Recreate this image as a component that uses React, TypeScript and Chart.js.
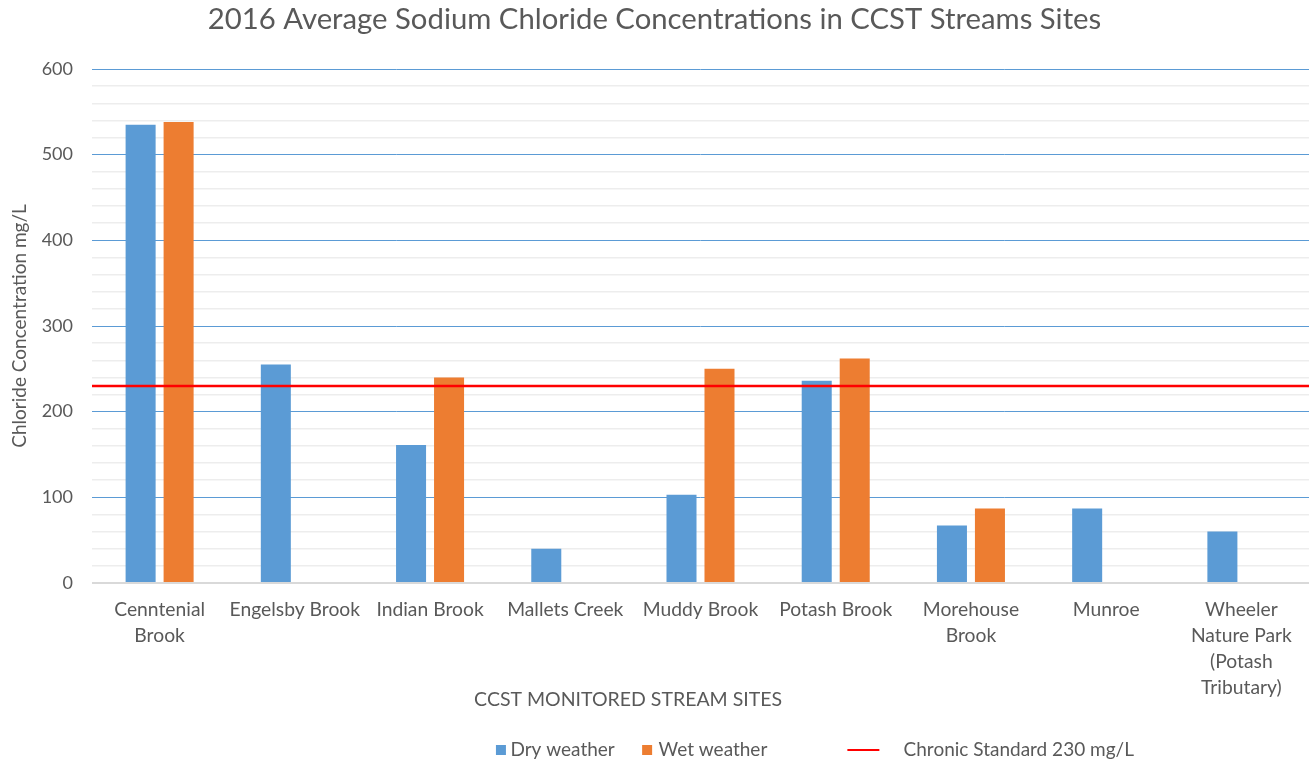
import React, { useEffect, useRef } from "react";
import { Chart, registerables } from "chart.js";

Chart.register(...registerables);

// ---------- data ----------
const siteLabels: string[][] = [
  ["Cenntenial", "Brook"],
  ["Engelsby Brook"],
  ["Indian Brook"],
  ["Mallets Creek"],
  ["Muddy Brook"],
  ["Potash Brook"],
  ["Morehouse", "Brook"],
  ["Munroe"],
  ["Wheeler", "Nature Park", "(Potash", "Tributary)"],
];
const dryWeather: (number | null)[] = [535, 255, 161, 40, 103, 236, 67, 87, 60];
const wetWeather: (number | null)[] = [538, null, 240, null, 250, 262, 87, null, null];
// chronic standard line: spans the whole category axis (outer edges of first and last category)
const chronicStandard: number[] = [230, 230];
const chronicSpan: number[] = [-0.5, siteLabels.length - 0.5];
const seriesNames: string[] = ["Dry weather", "Wet weather", "Chronic Standard 230 mg/L"];
const chartTitle = "2016 Average Sodium Chloride Concentrations in CCST Streams Sites";
const xTitle = "CCST MONITORED STREAM SITES";
const yTitle = "Chloride Concentration mg/L";
const yMin = 0;
const yMax = 600;
const yMinorStep = 20;
const yMajorStep = 100;

// ---------- styles ----------
const W = 1309;
const H = 764;
const FONT = "Lato";
const GREY = "#595959";
const BLUE = "#5B9BD5";
const ORANGE = "#ED7D31";
const RED = "#FF0000";

export default function App() {
  const ref = useRef<HTMLCanvasElement>(null);

  useEffect(() => {
    const canvas = ref.current;
    if (!canvas) return;

    const mctx = document.createElement("canvas").getContext("2d")!;
    const measure = (s: string, size: number) => {
      mctx.font = `normal ${size}px ${FONT}`;
      return mctx.measureText(s).width;
    };

    // font sizes
    const TF = 29.3; // chart title
    const TK = 18; // y ticks
    const XL = 19.3; // x tick labels
    const XT = 19.5; // x title
    const YT = 19; // y title
    const LF = 19; // legend

    const pad = (px: number, size = LF) =>
      " ".repeat(Math.max(0, Math.round(px / measure(" ", size))));

    // ---- legend layout (Chart.js legend, point-style icons) ----
    const BW = 10;
    const tOff = BW + LF / 2;
    const T1 = 508, T2 = 655, T3 = 903;
    const x1 = T1 - tOff;
    const text1 = seriesNames[0] + pad(T2 - tOff - x1 - tOff - measure(seriesNames[0], LF));
    const x2 = x1 + tOff + measure(text1, LF);
    const text2 = seriesNames[1];
    const x3 = x2 + tOff + measure(text2, LF);
    const lead = pad(T3 - (x3 + tOff));
    const endVis = x3 + tOff + measure(lead + seriesNames[2], LF);
    const text3 = lead + seriesNames[2] + pad(W - endVis);

    const makeIcon = (color: string, l: number, r: number, t: number, b: number) => {
      l = Math.round(l); r = Math.round(r);
      const half = Math.max(Math.abs(l), Math.abs(r)) + 1;
      const vh = Math.max(Math.abs(t), Math.abs(b));
      const cv = document.createElement("canvas");
      cv.width = half * 2;
      cv.height = vh * 2;
      const g = cv.getContext("2d")!;
      g.fillStyle = color;
      g.fillRect(half + l, vh + t, r - l, b - t);
      return cv;
    };
    const c1 = x1 + BW / 2, c2 = x2 + BW / 2, c3 = x3 + BW / 2;
    const icon1 = makeIcon(BLUE, 493 - c1, 503 - c1, -5, 5);
    const icon2 = makeIcon(ORANGE, 640 - c2, 650 - c2, -5, 5);
    const icon3 = makeIcon(RED, 845 - c3, 877 - c3, -1, 1);

    // ---- vertical layout ----
    const bottomPad = -5;
    const legendTop = H - bottomPad - (LF + 10);
    const plotBottom = 583;
    const xAxisH = legendTop - plotBottom;
    const xTickPad = 14;
    const xTitleText = xTitle + pad(145, XT);
    const xTitleLH = XT * 1.2;
    const xTitleBottom = legendTop - 700 - xTitleLH / 2;
    const xTitleTop = xAxisH - 4 * 26 - 2 * xTickPad - xTitleLH - xTitleBottom;

    // ---- horizontal layout of the y axis ----
    const w600 = measure("600", TK);
    const yTickPad = 19;
    const yTitleTop = 20 - (YT * 1.2) / 2;
    const yTitleBottom = 92 - 2 * yTickPad - w600 - yTitleTop - YT * 1.2;

    const chart = new Chart(canvas, {
      type: "bar",
      data: {
        labels: siteLabels,
        datasets: [
          {
            label: seriesNames[0],
            data: dryWeather,
            backgroundColor: BLUE,
            categoryPercentage: 0.562,
            barPercentage: 0.79,
            order: 1,
          },
          {
            label: seriesNames[1],
            data: wetWeather,
            backgroundColor: ORANGE,
            categoryPercentage: 0.562,
            barPercentage: 0.79,
            order: 1,
          },
          {
            type: "line",
            label: seriesNames[2],
            parsing: false,
            data: chronicSpan.map((x, i) => ({ x, y: chronicStandard[i] })),
            borderColor: RED,
            backgroundColor: RED,
            borderWidth: 2.5,
            pointRadius: 0,
            order: 0,
          } as any,
        ],
      },
      options: {
        responsive: false,
        animation: false,
        layout: { padding: { left: 0, right: 0, top: 0, bottom: bottomPad } },
        font: { family: FONT },
        scales: {
          x: {
            type: "category",
            offset: true,
            grid: { display: false, drawTicks: false },
            border: { display: false },
            ticks: {
              color: GREY,
              font: { family: FONT, size: XL, lineHeight: 26 / XL },
              padding: xTickPad,
              autoSkip: false,
              maxRotation: 0,
              minRotation: 0,
            },
            title: {
              display: true,
              text: xTitleText,
              color: GREY,
              font: { family: FONT, size: XT, lineHeight: 1.2 },
              padding: { top: xTitleTop, bottom: xTitleBottom },
            },
          },
          y: {
            type: "linear",
            min: yMin,
            max: yMax,
            border: { display: false },
            grid: {
              drawTicks: false,
              color: (c: any) =>
                c.tick.value === 0 ? "#D9D9D9" : c.tick.value % yMajorStep === 0 ? BLUE : "#EDEDED",
              lineWidth: (c: any) => (c.tick.value === 0 ? 2 : c.tick.value % yMajorStep === 0 ? 1 : 1.5),
            },
            ticks: {
              stepSize: yMinorStep,
              autoSkip: false,
              color: GREY,
              padding: yTickPad,
              font: { family: FONT, size: TK },
              callback: (v: any) => (Number(v) % yMajorStep === 0 ? String(v) : ""),
            },
            title: {
              display: true,
              text: yTitle,
              color: GREY,
              font: { family: FONT, size: YT, lineHeight: 1.2 },
              padding: { top: yTitleTop, bottom: yTitleBottom },
            },
          },
        },
        plugins: {
          title: {
            display: true,
            text: chartTitle,
            color: GREY,
            font: { family: FONT, size: TF, weight: "normal", lineHeight: 1.2 },
            padding: { top: 20 - (TF * 1.2) / 2, bottom: 69 - (20 - (TF * 1.2) / 2) - TF * 1.2 },
          },
          legend: {
            display: true,
            position: "bottom",
            align: "end",
            labels: {
              usePointStyle: true,
              boxWidth: BW,
              boxHeight: BW,
              padding: 0,
              color: GREY,
              font: { family: FONT, size: LF },
              generateLabels: () => [
                { text: text1, pointStyle: icon1, fillStyle: BLUE, strokeStyle: BLUE, lineWidth: 0, hidden: false, datasetIndex: 0, fontColor: GREY },
                { text: text2, pointStyle: icon2, fillStyle: ORANGE, strokeStyle: ORANGE, lineWidth: 0, hidden: false, datasetIndex: 1, fontColor: GREY },
                { text: text3, pointStyle: icon3, fillStyle: RED, strokeStyle: RED, lineWidth: 0, hidden: false, datasetIndex: 2, fontColor: GREY },
              ] as any,
            },
          },
          tooltip: { enabled: false },
        },
      } as any,
    });

    return () => chart.destroy();
  }, []);

  return (
    <div style={{ position: "absolute", left: 0, top: 0, width: W, height: H, background: "#fff" }}>
      <canvas ref={ref} width={W} height={H} style={{ display: "block", width: W, height: H }} />
    </div>
  );
}
